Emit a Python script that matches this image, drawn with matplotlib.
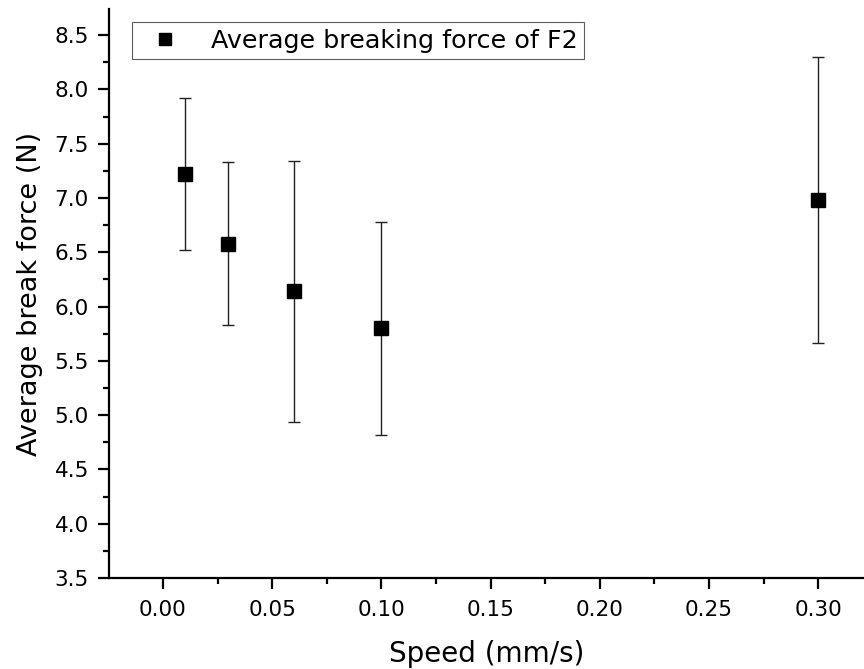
import matplotlib
matplotlib.use("Agg")
import matplotlib.pyplot as plt
from matplotlib.ticker import MultipleLocator
from matplotlib.lines import Line2D

plt.rcParams['font.family'] = ['DejaVu Sans']

speed = [0.01, 0.03, 0.06, 0.10, 0.30]
force = [7.22, 6.58, 6.14, 5.80, 6.98]
err = [0.70, 0.75, 1.20, 0.98, 1.32]
series_label = "Average breaking force of F2"
xtick_vals = [0.0, 0.05, 0.10, 0.15, 0.20, 0.25, 0.30]
xtick_labels = ['0.00', '0.05', '0.10', '0.15', '0.20', '0.25', '0.30']
ytick_vals = [3.5, 4.0, 4.5, 5.0, 5.5, 6.0, 6.5, 7.0, 7.5, 8.0, 8.5]
ytick_labels = ['3.5', '4.0', '4.5', '5.0', '5.5', '6.0', '6.5', '7.0', '7.5', '8.0', '8.5']

fig = plt.figure(figsize=(8.64, 6.69), dpi=100)
ax = fig.add_axes([109/864, 91/669, 1 - 109/864, (578-9)/669])

ax.errorbar(speed, force, yerr=err, fmt='s', color='black', markersize=9.5,
            ecolor='#222222', elinewidth=1.0, capsize=4.3, capthick=1.0)

ax.set_xlim(-0.0247, 0.321)
ax.set_ylim(3.5, 8.74)
ax.xaxis.set_minor_locator(MultipleLocator(0.025))
ax.yaxis.set_minor_locator(MultipleLocator(0.25))
ax.set_xticks(xtick_vals)
ax.set_xticklabels(xtick_labels)
ax.set_yticks(ytick_vals)
ax.set_yticklabels(ytick_labels)

for s in ['top', 'right']:
    ax.spines[s].set_visible(False)
for s in ['left', 'bottom']:
    ax.spines[s].set_linewidth(1.6)

ax.tick_params(which='major', direction='out', length=8, width=1.6, labelsize=15.5)
ax.tick_params(axis='y', which='major', pad=6.5)
ax.tick_params(axis='x', which='major', pad=8)
ax.tick_params(which='minor', direction='out', length=4.5, width=1.6)

ax.set_xlabel('Speed (mm/s)', fontsize=20, labelpad=14)
ax.set_ylabel('Average break force (N)', fontsize=19.5, labelpad=8)

handle = Line2D([], [], marker='s', linestyle='none', color='black', markersize=8.5)
leg = ax.legend([handle], [series_label], loc='upper left', bbox_to_anchor=(0.03, 0.977),
                fontsize=18.3, frameon=True, fancybox=False, edgecolor='#333333',
                handletextpad=0.75, borderpad=0.26, handlelength=2.1, borderaxespad=0)
leg.get_frame().set_linewidth(0.8)

fig.savefig('out.png', dpi=100)
